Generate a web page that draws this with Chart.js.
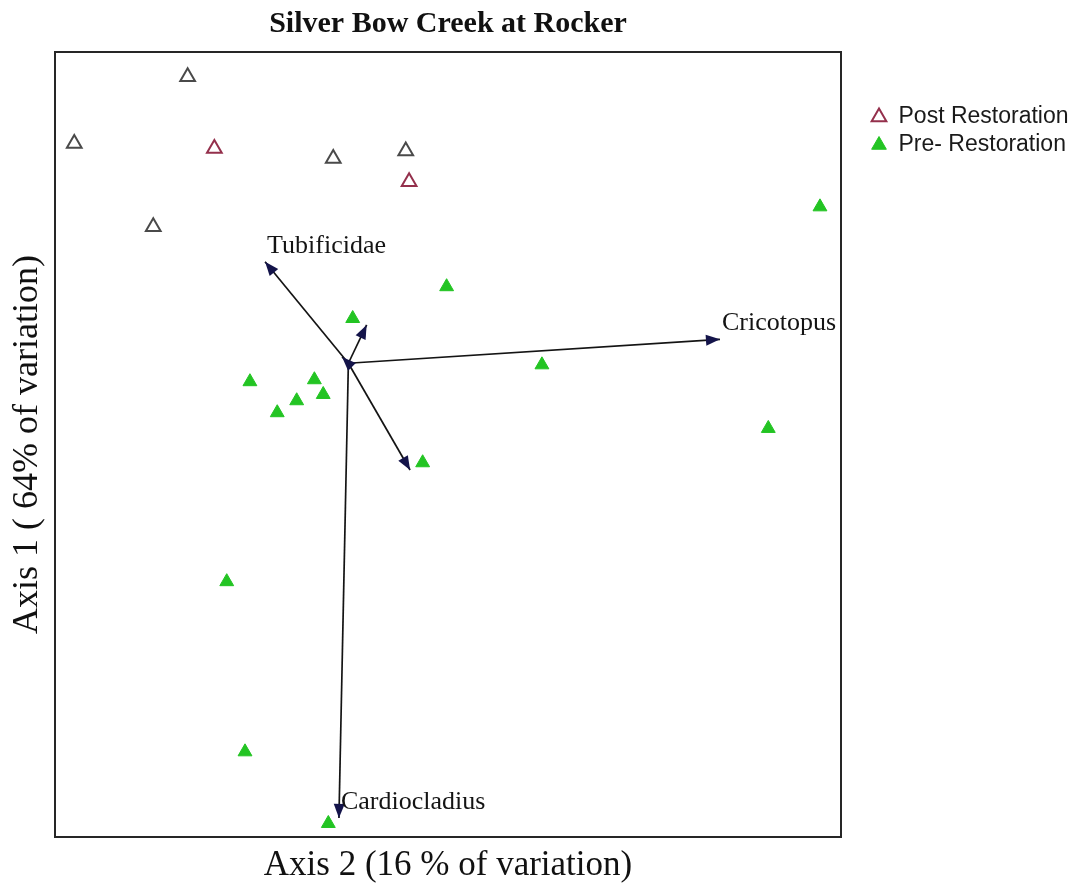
<!DOCTYPE html>
<html>
<head>
<meta charset="utf-8">
<title>Silver Bow Creek at Rocker</title>
<script src="https://cdn.jsdelivr.net/npm/chart.js@4.4.1/dist/chart.umd.min.js"></script>
<style>
  html, body { margin: 0; padding: 0; background: #ffffff; }
  canvas { display: block; }
</style>
</head>
<body>
<canvas id="ord" width="1078" height="892"></canvas>
<script>
// Site scores on the two ordination axes
const postX = [-0.689, -0.825, -1.402, -0.084, 0.285, 0.302, -1.000];
const postY = [1.108, 1.474, 1.134, 1.057, 1.095, 0.939, 0.709];
const postColors = ['#94304c', '#4a4a4a', '#4a4a4a', '#4a4a4a', '#4a4a4a', '#94304c', '#4a4a4a'];

const preX = [2.393, 0.493, 0.015, -0.508, -0.180, -0.270, -0.135, -0.369, 0.978, 2.130, 0.371, -0.626, -0.533, -0.109];
const preY = [0.811, 0.404, 0.242, -0.080, -0.070, -0.177, -0.145, -0.238, 0.006, -0.318, -0.493, -1.099, -1.966, -2.331];

// Taxon vectors (biplot arrows) from a common origin
const vectorOrigin = [-0.007, 0.014];
const vectorX = [-0.431, 0.086, 0.307, 1.884, -0.055, -0.039];
const vectorY = [0.531, 0.209, -0.530, 0.136, -2.303, 0.046];
const vectorLabels = ['Tubificidae', '', '', 'Cricotopus', 'Cardiocladius', ''];

const seriesNames = ['Post Restoration', 'Pre- Restoration'];
const chartTitle = 'Silver Bow Creek at Rocker';
const xTitle = 'Axis 2 (16 % of variation)';
const yTitle = 'Axis 1 ( 64% of variation)';

const toPoints = (xs, ys) => xs.map((x, i) => ({ x: x, y: ys[i] }));

const datasets = [
  {
    label: seriesNames[0],
    data: toPoints(postX, postY),
    pointStyle: 'triangle',
    pointRadius: 8.5,
    pointHoverRadius: 8.5,
    borderWidth: 2,
    borderColor: postColors,
    backgroundColor: 'rgba(255,255,255,0)',
    order: 2
  },
  {
    label: seriesNames[1],
    data: toPoints(preX, preY),
    pointStyle: 'triangle',
    pointRadius: 8,
    pointHoverRadius: 8,
    borderWidth: 1,
    borderColor: '#23c423',
    backgroundColor: '#23c423',
    order: 2
  }
];

vectorX.forEach((vx, i) => {
  datasets.push({
    label: vectorLabels[i],
    isVector: true,
    data: [{ x: vectorOrigin[0], y: vectorOrigin[1] }, { x: vx, y: vectorY[i] }],
    showLine: true,
    pointRadius: 0,
    pointHoverRadius: 0,
    borderColor: '#141414',
    borderWidth: 1.7,
    tension: 0,
    order: 0
  });
});

// Frame around the plotting area
const framePlugin = {
  id: 'frame',
  afterDatasetsDraw(chart) {
    const a = chart.chartArea;
    const ctx = chart.ctx;
    ctx.save();
    ctx.strokeStyle = '#262626';
    ctx.lineWidth = 2;
    ctx.strokeRect(a.left, a.top, a.right - a.left, a.bottom - a.top);
    ctx.restore();
  }
};

// Arrowheads and taxon names at the vector tips
const arrowPlugin = {
  id: 'arrows',
  afterDatasetsDraw(chart) {
    const ctx = chart.ctx;
    ctx.save();
    chart.data.datasets.forEach((ds, di) => {
      if (!ds.isVector) return;
      const pts = chart.getDatasetMeta(di).data;
      const p0 = pts[0], p1 = pts[1];
      const ang = Math.atan2(p1.y - p0.y, p1.x - p0.x);
      const len = 14, half = 5.5;
      const bx = p1.x - len * Math.cos(ang), by = p1.y - len * Math.sin(ang);
      ctx.beginPath();
      ctx.moveTo(p1.x, p1.y);
      ctx.lineTo(bx - half * Math.sin(ang), by + half * Math.cos(ang));
      ctx.lineTo(bx + half * Math.sin(ang), by - half * Math.cos(ang));
      ctx.closePath();
      ctx.fillStyle = '#14144a';
      ctx.fill();
      if (ds.label) {
        ctx.font = '26px "Liberation Serif"';
        ctx.fillStyle = '#141414';
        ctx.textAlign = 'left';
        ctx.textBaseline = 'middle';
        ctx.fillText(ds.label, p1.x + 2, p1.y - 16);
      }
    });
    ctx.restore();
  }
};

new Chart(document.getElementById('ord'), {
  type: 'scatter',
  data: { datasets: datasets },
  options: {
    responsive: false,
    devicePixelRatio: 1,
    animation: false,
    layout: { padding: 0 },
    plugins: {
      title: {
        display: true,
        text: chartTitle,
        fullSize: false,
        color: '#111111',
        font: { family: 'Liberation Serif', size: 30, weight: 'bold' },
        padding: { top: 6, bottom: 10 }
      },
      legend: {
        display: true,
        position: 'right',
        align: 'start',
        maxWidth: 212,
        title: { display: true, text: ' ', font: { size: 10 }, padding: { top: 0, bottom: 88.5 } },
        labels: {
          usePointStyle: true,
          boxWidth: 16,
          boxHeight: 12,
          padding: 5,
          color: '#1a1a1a',
          font: { family: 'Liberation Sans', size: 23 },
          filter: (item, data) => !data.datasets[item.datasetIndex].isVector
        }
      },
      tooltip: { enabled: false }
    },
    scales: {
      x: {
        type: 'linear',
        min: -1.5,
        max: 2.5,
        ticks: { display: false },
        grid: { display: false, drawTicks: false },
        border: { display: false },
        title: {
          display: true,
          text: xTitle,
          color: '#111111',
          font: { family: 'Liberation Serif', size: 35 },
          padding: { top: 7.6, bottom: 5.4 }
        }
      },
      y: {
        type: 'linear',
        min: -2.4,
        max: 1.6,
        ticks: { display: false },
        grid: { display: false, drawTicks: false },
        border: { display: false },
        title: {
          display: true,
          text: yTitle,
          color: '#111111',
          font: { family: 'Liberation Serif', size: 36 },
          padding: { top: 6.4, bottom: 5.4 }
        }
      },
      yGap: {
        type: 'linear',
        position: 'right',
        display: true,
        ticks: { display: false },
        grid: { display: false, drawTicks: false },
        border: { display: false },
        afterFit: (scale) => { scale.width = 25; }
      }
    }
  },
  plugins: [framePlugin, arrowPlugin]
});
</script>
</body>
</html>
